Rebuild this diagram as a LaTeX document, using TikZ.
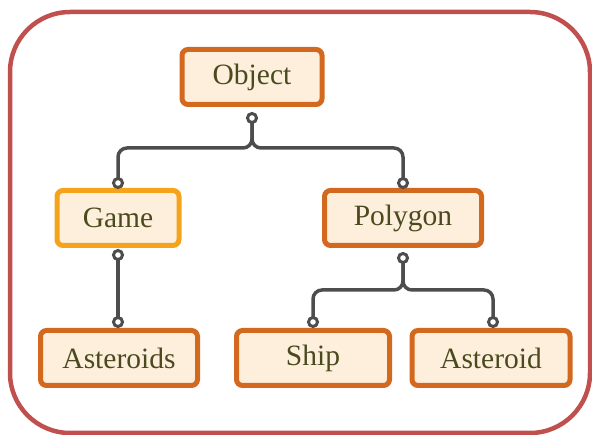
\documentclass[tikz,border=0pt]{standalone}
\usepackage{fontspec}
\setmainfont{Liberation Serif}
\begin{document}
\begin{tikzpicture}[x=1pt,y=-1pt,
  box/.style={draw=boxedge, fill=boxfill, line width=5pt, rounded corners=6pt,
    minimum height=55pt, text=boxtext, font=\fontsize{29.5}{32}\selectfont, inner sep=0pt},
  gamebox/.style={box, draw=gameedge},
  conn/.style={draw=connc, line width=3.5pt, rounded corners=9pt},
  dot/.style={draw=connc, fill=white, line width=3pt, circle, inner sep=0pt, minimum size=9pt}]
\definecolor{boxedge}{HTML}{D2691E}
\definecolor{gameedge}{HTML}{F5A31A}
\definecolor{boxfill}{HTML}{FDEFDC}
\definecolor{boxtext}{HTML}{4A4A1E}
\definecolor{connc}{HTML}{4D4D4D}
\definecolor{framec}{HTML}{C0504D}
\useasboundingbox (0,0) rectangle (592,435);
\draw[framec, line width=4.5pt, rounded corners=60pt] (10,12) rectangle (590,433);

\node[box, minimum width=140pt] (obj) at (252,77) {Object};
\node[gamebox, minimum width=122pt] (game) at (118,218) {Game};
\node[box, minimum width=157pt] (poly) at (403,218) {Polygon};
\node[box, minimum width=157pt] (ast) at (119,358) {Asteroids};
\node[box, minimum width=153pt] (ship) at (313,358) {Ship};
\node[box, minimum width=158pt] (astr) at (491,358) {Asteroid};

\coordinate (objd) at (252,118);
\coordinate (gameu) at (118,183);
\coordinate (gamed) at (118,255);
\coordinate (polyu) at (403,183);
\coordinate (polyd) at (403,258);
\coordinate (astu) at (118,322);
\coordinate (shipu) at (313,322);
\coordinate (astru) at (493,322);

\path[conn] (objd) |- (118,148) -- (gameu);
\path[conn] (objd) |- (403,148) -- (polyu);
\path[conn] (gamed) -- (astu);
\path[conn] (polyd) |- (313,290) -- (shipu);
\path[conn] (polyd) |- (493,290) -- (astru);

\foreach \c in {objd,gameu,gamed,polyu,polyd,astu,shipu,astru}
  \node[dot] (d-\c) at (\c) {};
\end{tikzpicture}
\end{document}
